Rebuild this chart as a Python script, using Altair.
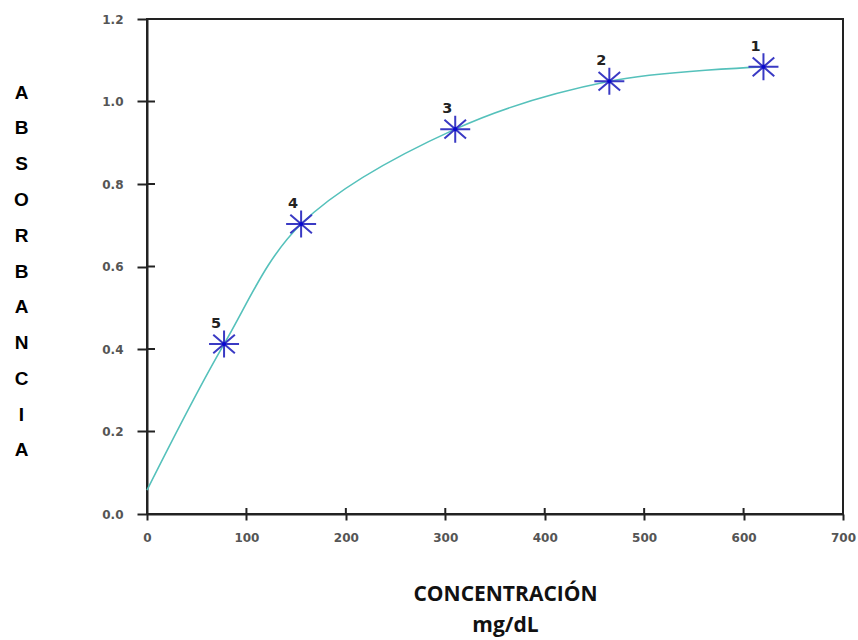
import altair as alt
import pandas as pd

# Data
curve_conc = [0, 77.5, 155, 310, 465, 620]
curve_abs = [0.058, 0.412, 0.703, 0.933, 1.049, 1.084]

point_conc = [77.5, 155, 310, 465, 620]
point_abs = [0.412, 0.703, 0.933, 1.049, 1.084]
point_label = ["5", "4", "3", "2", "1"]

x_ticks = [0, 100, 200, 300, 400, 500, 600, 700]
y_ticks = [0.0, 0.2, 0.4, 0.6, 0.8, 1.0, 1.2]

curve_df = pd.DataFrame({"x": curve_conc, "y": curve_abs})
pts_df = pd.DataFrame({"x": point_conc, "y": point_abs, "label": point_label})
xt_df = pd.DataFrame({"x": x_ticks})
yt_df = pd.DataFrame({"y": y_ticks})

W, H = 696, 495
xscale = alt.Scale(domain=[0, 700], nice=False, zero=False)
yscale = alt.Scale(domain=[0, 1.2], nice=False, zero=False)

x_axis = alt.Axis(
    values=x_ticks, format="d", grid=False,
    title=["CONCENTRACIÓN", "mg/dL"],
    titleFont="Open Sans", titleFontSize=21, titleFontWeight="bold", titleColor="#111",
    titleX=358, titleY=86, titleAlign="center", titleBaseline="alphabetic",
    titleLineHeight=31, titleAnchor="start",
    labelFont="DejaVu Sans", labelFontSize=12, labelFontWeight="bold", labelColor="#555",
    labelPadding=12, tickSize=6, tickWidth=2, tickColor="#222",
    domainColor="#222", domainWidth=2, labelFlush=False,
)
y_axis = alt.Axis(
    values=y_ticks, format=".1f", grid=False,
    title=list("ABSORBANCIA"),
    titleFont="Liberation Sans", titleFontSize=19, titleFontWeight="bold", titleColor="#000",
    titleAngle=0, titleX=-126, titleY=79, titleAlign="center", titleBaseline="alphabetic",
    titleLineHeight=35.8, titleAnchor="start",
    labelFont="DejaVu Sans", labelFontSize=12, labelFontWeight="bold", labelColor="#555",
    labelPadding=14, tickSize=10, tickWidth=2, tickColor="#222",
    domainColor="#222", domainWidth=2, labelFlush=False,
)

line = alt.Chart(curve_df).mark_line(
    interpolate="catmull-rom", color="#55c1bb", strokeWidth=1.6
).encode(
    x=alt.X("x:Q", scale=xscale, axis=x_axis),
    y=alt.Y("y:Q", scale=yscale, axis=y_axis),
)

star_path = "M-1,0L1,0M0,-0.9L0,0.9M-0.72,-0.62L0.72,0.62M-0.72,0.62L0.72,-0.62"
stars = alt.Chart(pts_df).mark_point(
    shape=star_path, size=900, filled=False, stroke="#3a3ac4", strokeWidth=2, opacity=1
).encode(x=alt.X("x:Q", scale=xscale), y=alt.Y("y:Q", scale=yscale))

dots = alt.Chart(pts_df).mark_point(
    shape="circle", filled=True, size=18, color="#0a0ad0", opacity=1
).encode(x=alt.X("x:Q", scale=xscale), y=alt.Y("y:Q", scale=yscale))

labels = alt.Chart(pts_df).mark_text(
    dx=-8, dy=-20, font="DejaVu Sans", fontSize=14.5, fontWeight="bold", color="#222",
    baseline="middle", align="center"
).encode(x=alt.X("x:Q", scale=xscale), y=alt.Y("y:Q", scale=yscale), text="label:N")

# inner halves of the axis ticks (ticks cross the axis line)
xin = alt.Chart(xt_df).mark_rule(color="#222", strokeWidth=2).encode(
    x=alt.X("x:Q", scale=xscale), y=alt.value(H), y2=alt.value(H - 6)
)
yin = alt.Chart(yt_df).mark_rule(color="#222", strokeWidth=2).encode(
    y=alt.Y("y:Q", scale=yscale), x=alt.value(0), x2=alt.value(8)
)

chart = alt.layer(line, xin, yin, stars, dots, labels).properties(
    width=W, height=H,
    autosize=alt.AutoSizeParams(type="none"),
    padding={"left": 147, "top": 19, "right": 15, "bottom": 126},
    background="white",
).configure_view(stroke="#222", strokeWidth=2)

chart.save("out.html", embed_options={"renderer": "svg", "actions": False})
